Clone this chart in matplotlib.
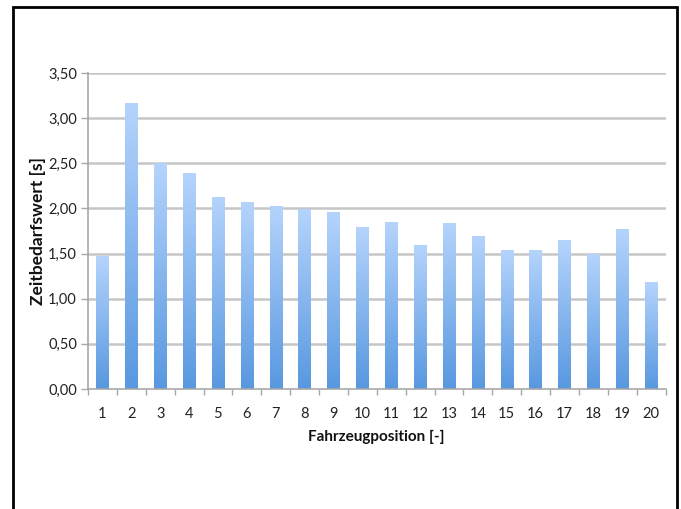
import numpy as np
import matplotlib.pyplot as plt
from matplotlib.patches import Rectangle
from matplotlib.colors import LinearSegmentedColormap
from matplotlib.ticker import FixedLocator

plt.rcParams['font.family'] = ['Lato', 'DejaVu Sans']

# Zeitbedarfswerte je Fahrzeugposition
positions = list(range(1, 21))
zeitbedarf = [1.47, 3.17, 2.50, 2.39, 2.13, 2.07, 2.03, 1.99, 1.96, 1.79,
              1.85, 1.60, 1.84, 1.70, 1.54, 1.54, 1.65, 1.49, 1.77, 1.19]
y_ticks = [0.0, 0.5, 1.0, 1.5, 2.0, 2.5, 3.0, 3.5]
y_tick_labels = ["0,00", "0,50", "1,00", "1,50", "2,00", "2,50", "3,00", "3,50"]

W, H = 681, 509
fig = plt.figure(figsize=(W / 100, H / 100), dpi=100)
ax = fig.add_axes([88 / W, 1 - 389 / H, (665.5 - 88) / W, (389 - 73) / H])

grid_col = "#c6c6c6"
for yv in y_ticks[1:]:
    ax.axhline(yv, color=grid_col, lw=1.8, zorder=0)

# Balken mit vertikalem Farbverlauf (oben hell, unten dunkler)
cmap = LinearSegmentedColormap.from_list("blau", ["#5898e0", "#b5d4fc"])
grad = np.linspace(0, 1, 256).reshape(-1, 1)
bars = ax.bar(positions, zeitbedarf, width=0.42, color="none", edgecolor="none", zorder=2)
for b in bars:
    x0, w, h = b.get_x(), b.get_width(), b.get_height()
    im = ax.imshow(grad, cmap=cmap, extent=[x0, x0 + w, 0, h], origin="lower",
                   aspect="auto", zorder=2)
    im.set_clip_path(b)

ax.set_xlim(0.5, 20.5)
ax.set_ylim(0, 3.5)

ax.set_yticks(y_ticks)
ax.set_yticklabels(y_tick_labels)
ax.set_xticks(positions)
ax.set_xticklabels([str(p) for p in positions])
ax.xaxis.set_minor_locator(FixedLocator(np.arange(0.5, 21, 1)))
ax.tick_params(axis="x", which="major", length=0, pad=13, labelsize=10.5, colors="#222222")
ax.tick_params(axis="x", which="minor", length=4, width=1, color="#a8a8a8", direction="out")
ax.tick_params(axis="y", length=5, width=1, color="#a8a8a8", pad=3, labelsize=10.5,
               labelcolor="#222222")

for side in ["top", "right"]:
    ax.spines[side].set_visible(False)
for side in ["left", "bottom"]:
    ax.spines[side].set_color("#a8a8a8")
    ax.spines[side].set_linewidth(1.2)

ax.set_xlabel("Fahrzeugposition [-]", fontsize=11, fontweight="bold", labelpad=6,
              color="#111111")
fig.text(38 / W, 1 - 231 / H, "Zeitbedarfswert [s]", rotation=90, ha="center",
         va="center", fontsize=12.5, fontweight="bold", color="#111111")

# schwarzer Rahmen um die Grafik
fig.patches.append(Rectangle((13 / W, -0.05), (677 - 13) / W, 1.05 - 7 / H,
                             transform=fig.transFigure, fill=False,
                             edgecolor="black", lw=2.0))

fig.savefig("out.png", dpi=100)
